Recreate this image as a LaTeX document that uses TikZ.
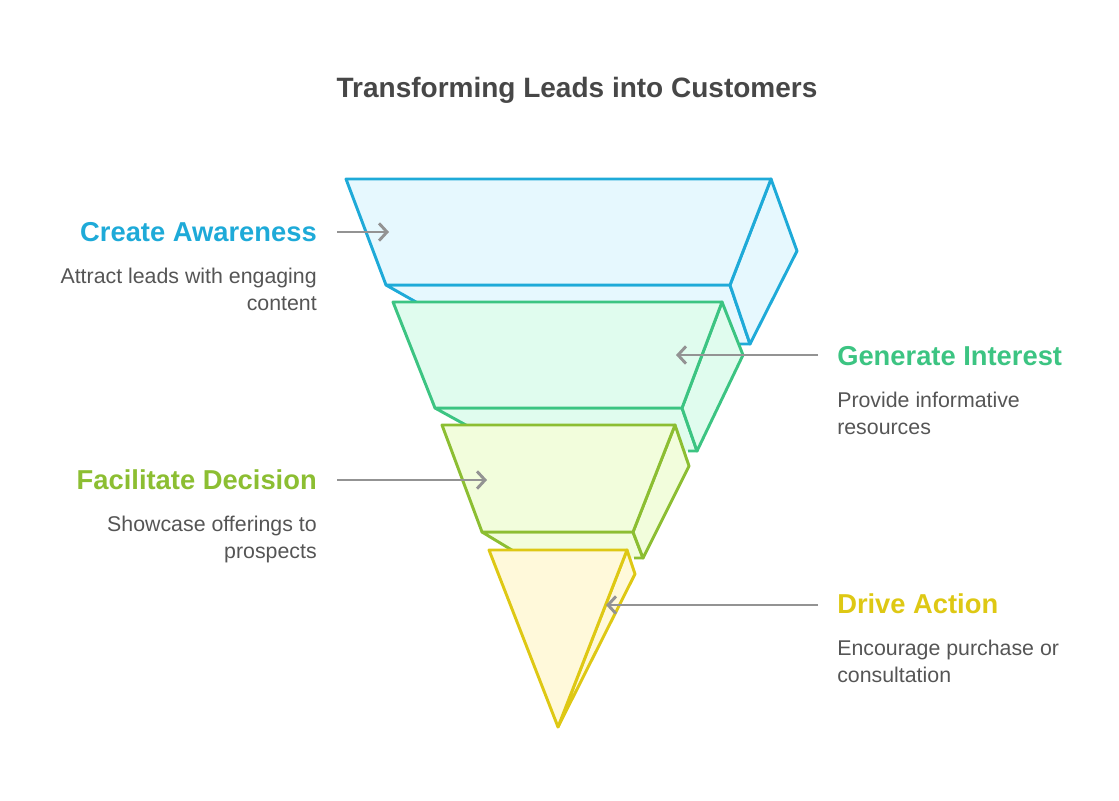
\documentclass[tikz,border=0pt]{standalone}
\usepackage{fontspec}
\setmainfont{Liberation Sans}
\usetikzlibrary{arrows.meta}

\definecolor{cblue}{HTML}{1EAAD8}
\definecolor{cgreen}{HTML}{3CC482}
\definecolor{clime}{HTML}{8CBE32}
\definecolor{cyellow}{HTML}{DEC814}
\definecolor{fblue}{HTML}{E6F8FE}
\definecolor{fgreen}{HTML}{E0FCEE}
\definecolor{flime}{HTML}{F2FDDC}
\definecolor{fyellow}{HTML}{FFF9DA}
\definecolor{ctext}{HTML}{555555}

\begin{document}
\begin{tikzpicture}[
            x = 0.75pt, y = -0.75pt, % pixel units
            line join = round,
            layer/.style = {line width=2.2pt},
            pointer/.style = {draw=gray!85, line width=2.2pt, -{Straight Barb[length=6pt,width=13pt]}},
            heading/.style = {inner sep=0pt, font=\fontsize{20.5}{24}\selectfont\bfseries},
            caption/.style = {inner sep=0pt, font=\fontsize{16}{20}\selectfont, text=ctext}
        ]
	\useasboundingbox (0,0) rectangle (1119,800);

	\node[font=\fontsize{21}{24}\selectfont\bfseries, text=black!72] (title) at (577,90) {Transforming Leads into Customers};

	% awareness layer
	\fill[fblue] (386,285) -- (730,285) -- (750,344) -- (490,344) -- cycle;
	\draw[layer, draw=cblue] (490,344) -- (386,285) -- (730,285) -- (750,344) -- (740,344);
	\draw[layer, draw=cblue, fill=fblue] (771,179) -- (797,251) -- (750,344) -- (730,285) -- cycle;
	\draw[layer, draw=cblue, fill=fblue] (346,179) -- (771,179) -- (730,285) -- (386,285) -- cycle;

	% interest layer
	\fill[fgreen] (435,408) -- (682,408) -- (697,451) -- (513,451) -- cycle;
	\draw[layer, draw=cgreen] (513,451) -- (435,408) -- (682,408) -- (697,451) -- (688,451);
	\draw[layer, draw=cgreen, fill=fgreen] (722,302) -- (743,355) -- (697,451) -- (682,408) -- cycle;
	\draw[layer, draw=cgreen, fill=fgreen] (393,302) -- (722,302) -- (682,408) -- (435,408) -- cycle;

	% decision layer
	\fill[flime] (482,532) -- (633,532) -- (643,558) -- (525,558) -- cycle;
	\draw[layer, draw=clime] (525,558) -- (482,532) -- (633,532) -- (643,558) -- (634,558);
	\draw[layer, draw=clime, fill=flime] (675,425) -- (689,466) -- (643,558) -- (633,532) -- cycle;
	\draw[layer, draw=clime, fill=flime] (442,425) -- (675,425) -- (633,532) -- (482,532) -- cycle;

	% action layer
	\draw[layer, draw=cyellow, fill=fyellow] (627,550) -- (635,574) -- (558,727) -- cycle;
	\draw[layer, draw=cyellow, fill=fyellow] (489,550) -- (627,550) -- (558,727) -- cycle;

	% labels
	\node[heading, text=cblue, anchor=east] (aware) at (317,232) {Create Awareness};
	\node[caption, anchor=north east, align=right] (awaretxt) at (317,268) {Attract leads with engaging\\content};
	\node[heading, text=cgreen, anchor=west] (interest) at (837,356) {Generate Interest};
	\node[caption, anchor=north west, align=left] (interesttxt) at (837,392) {Provide informative\\resources};
	\node[heading, text=clime, anchor=east] (decide) at (317,480) {Facilitate Decision};
	\node[caption, anchor=north east, align=right] (decidetxt) at (317,516) {Showcase offerings to\\prospects};
	\node[heading, text=cyellow, anchor=west] (act) at (837,604) {Drive Action};
	\node[caption, anchor=north west, align=left] (acttxt) at (837,640) {Encourage purchase or\\consultation};

	\coordinate (awareend) at (389,232);
	\coordinate (interestend) at (676,355);
	\coordinate (decideend) at (487,480);
	\coordinate (actend) at (606,605);

	\draw[pointer] (aware.east) ++(20,0) -- (awareend);
	\draw[pointer] (interest.west) ++(-19,-1) -- (interestend);
	\draw[pointer] (decide.east) ++(20,0) -- (decideend);
	\draw[pointer] (act.west) ++(-19,1) -- (actend);

\end{tikzpicture}
\end{document}
